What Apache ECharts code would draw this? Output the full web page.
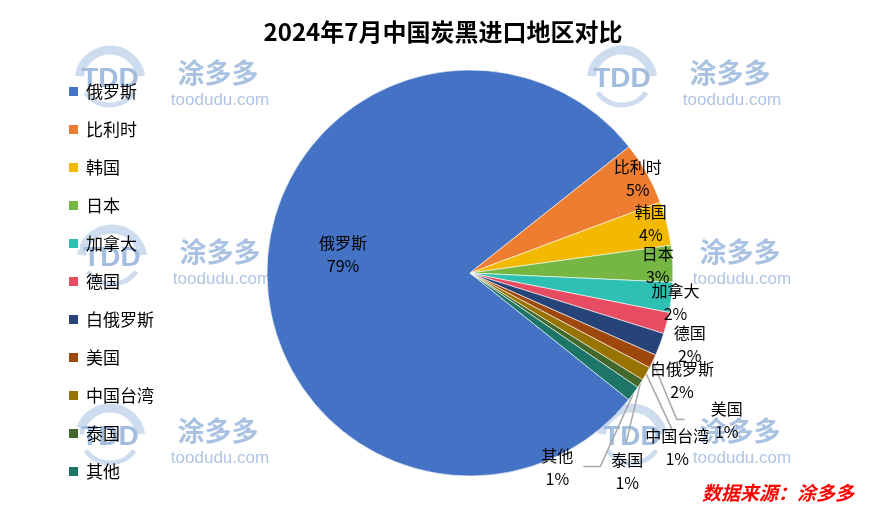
<!DOCTYPE html>
<html>
<head>
<meta charset="utf-8">
<script src="https://cdn.jsdelivr.net/npm/echarts@6/dist/echarts.min.js"></script>
<style>
html,body{margin:0;padding:0;background:#fff;}
#chart{width:886px;height:532px;}
</style>
</head>
<body>
<div id="chart"></div>
<script>
// ---- data ----
const categories = ['俄罗斯','比利时','韩国','日本','加拿大','德国','白俄罗斯','美国','中国台湾','泰国','其他'];
const shares = [78.6, 5.0, 3.5, 2.9, 2.4, 1.7, 1.8, 1.1, 1.1, 0.7, 1.2];
const titleText = '2024年7月中国炭黑进口地区对比';
const sourceText = '数据来源：涂多多';

// ---- styling / layout (not data) ----
const colors = ['#4472C4','#ED7D31','#F3B800','#76B743','#2EC0B3','#E84C62','#264478','#9E480E','#997300','#43682B','#1D7568'];
const pieCenter = [470, 273];
const pieRadius = 203;
const startAngle = -38.6;
// label centre offsets from the slice's outer mid-point
const labelOffsets = [[76,-18],[-9,5],[-16,0],[-15,2],[4,5],[23,21],[22,36],[74,59],[31,74],[-13,88],[-76,74]];
// leader line end points relative to label centre (null = no line)
const leaderEnds = [null,null,null,null,null,null,null,
  [[-50,-1],[-42,-1]],
  [[-4,-16],[-4,-16]],
  [[-1,-29],[-1,-29]],
  [[43,-1],[26,-1]]];

const chart = echarts.init(document.getElementById('chart'));

function sliceGeom(){
  const total = shares.reduce((a,b)=>a+b,0);
  let acc = 0;
  return shares.map(v=>{
    const mid = (startAngle - (acc + v/2)/total*360) * Math.PI/180;
    acc += v;
    return {x: pieCenter[0] + pieRadius*Math.cos(mid), y: pieCenter[1] - pieRadius*Math.sin(mid)};
  });
}
const geom = sliceGeom();

const data = categories.map((c,i)=>({
  name: c,
  value: shares[i],
  itemStyle: {color: colors[i]},
  labelLine: {show: !!leaderEnds[i]}
}));

function watermark(x0,y0){
  return [
    {type:'arc', shape:{cx:x0, cy:y0+2, r:31, startAngle:Math.PI*1.05, endAngle:Math.PI*1.95}, style:{fill:'none', stroke:'#cddcee', lineWidth:9}, z:0, silent:true},
    {type:'arc', shape:{cx:x0, cy:y0-4, r:30, startAngle:Math.PI*0.2, endAngle:Math.PI*0.8}, style:{fill:'none', stroke:'#cddcee', lineWidth:5}, z:0, silent:true},
    {type:'text', x:x0, y:y0, style:{text:'TDD', fill:'#a2bde0', font:'bold 28px "Liberation Sans", Arial', align:'center', verticalAlign:'middle'}, z:0, silent:true},
    {type:'text', x:x0+108, y:y0-6, style:{text:'涂多多', fill:'#aac2e2', font:'bold 27px "Noto Sans CJK SC"', align:'center', verticalAlign:'middle'}, z:0, silent:true},
    {type:'text', x:x0+110, y:y0+21, style:{text:'toodudu.com', fill:'#afc5e3', font:'17px "Liberation Sans", Arial', align:'center', verticalAlign:'middle'}, z:0, silent:true}
  ];
}
const marks = [[110,79],[622,79],[112,258],[632,258],[110,437],[632,437]];
let graphics = [];
marks.forEach(m=>{ graphics = graphics.concat(watermark(m[0], m[1])); });
graphics.push({type:'text', x:778, y:493, style:{text:sourceText, fill:'#ff0000', font:'italic bold 19px "Noto Sans CJK SC"', align:'center', verticalAlign:'middle'}, z:10});

const option = {
  animation: false,
  backgroundColor: '#fff',
  title: {
    text: titleText, left: 'center', top: 15,
    textStyle: {fontSize: 24, fontWeight: 'bold', color: '#000', fontFamily: '"Noto Sans CJK SC"'}
  },
  legend: {
    orient: 'vertical', left: 62, top: 78,
    itemWidth: 11, itemHeight: 11, itemGap: 21, icon: 'rect',
    textStyle: {fontSize: 17, lineHeight: 16, color: '#000', fontFamily: '"Noto Sans CJK SC"', padding:[0,0,0,2]},
    data: categories
  },
  graphic: graphics,
  series: [{
    type: 'pie',
    center: pieCenter,
    radius: pieRadius,
    startAngle: startAngle,
    clockwise: true,
    avoidLabelOverlap: false,
    itemStyle: {borderColor: '#fff', borderWidth: 0.6},
    label: {
      show: true, position: 'outside',
      formatter: p => p.name + '\n' + Math.round(p.percent) + '%',
      fontSize: 16, lineHeight: 23, color: '#000', fontFamily: '"Noto Sans CJK SC"', align: 'center'
    },
    labelLine: {lineStyle: {color: '#a6a6a6', width: 1.5}},
    labelLayout: function(p){
      const i = p.dataIndex;
      const g = geom[i];
      const o = labelOffsets[i];
      const x = g.x + o[0], y = g.y + o[1];
      const res = {x: x, y: y, align: 'center', verticalAlign: 'middle'};
      const e = leaderEnds[i];
      if (e) res.labelLinePoints = [[g.x, g.y], [x+e[0][0], y+e[0][1]], [x+e[1][0], y+e[1][1]]];
      return res;
    },
    data: data
  }]
};
chart.setOption(option);
</script>
</body>
</html>
